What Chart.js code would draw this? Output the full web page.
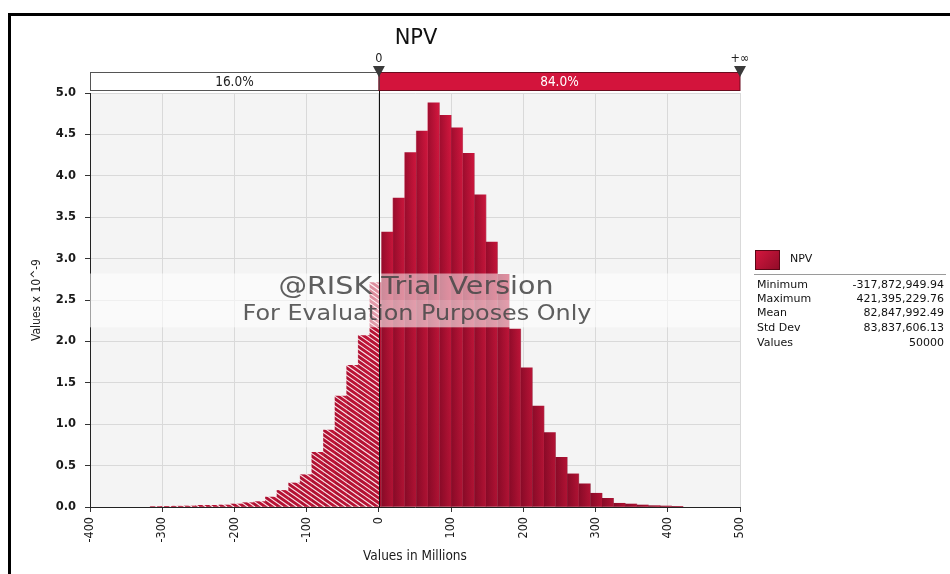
<!DOCTYPE html>
<html>
<head>
<meta charset="utf-8">
<script src="https://cdn.jsdelivr.net/npm/chart.js@4.4.1/dist/chart.umd.min.js"></script>
<style>
  html, body { margin: 0; padding: 0; background: #ffffff; }
  #wrap { width: 950px; height: 574px; position: relative; }
</style>
</head>
<body>
<div id="wrap"><canvas id="c" width="950" height="574"></canvas></div>
<script>
// ---------------- data ----------------
const chartTitle = 'NPV';
// histogram bin edges (values in millions)
const binEdges = [
  -317.87, -301.80, -285.73, -269.66, -253.59, -237.52, -221.45, -205.38, -189.30, -173.23,
  -157.16, -141.09, -125.02, -108.95, -92.88, -76.81, -60.74, -44.66, -28.59, -12.52,
  3.55, 19.62, 35.69, 51.76, 67.83, 83.90, 99.97, 116.05, 132.12, 148.19,
  164.26, 180.33, 196.40, 212.47, 228.54, 244.61, 260.69, 276.76, 292.83, 308.90,
  324.97, 341.04, 357.11, 373.18, 389.25, 405.32, 421.40
];
// probability density (x 10^-9) of each bin
const densities = [
  0.006, 0.008, 0.010, 0.012, 0.020, 0.020, 0.024, 0.036, 0.052, 0.065,
  0.12, 0.20, 0.29, 0.39, 0.66, 0.93, 1.34, 1.71, 2.07, 2.71,
  3.32, 3.73, 4.28, 4.54, 4.88, 4.73, 4.58, 4.27, 3.77, 3.20,
  2.81, 2.15, 1.68, 1.22, 0.90, 0.60, 0.40, 0.28, 0.166, 0.105,
  0.045, 0.036, 0.024, 0.016, 0.012, 0.008
];
const xTickValues = [-400, -300, -200, -100, 0, 100, 200, 300, 400, 500];
const yTickValues = [0, 0.5, 1, 1.5, 2, 2.5, 3, 3.5, 4, 4.5, 5];
const xTitle = 'Values in Millions';
const yTitle = 'Values x 10^-9';
const delimiterValue = 0;
const delimiterLabels = ['0', '+\u221E'];
const regionLabels = ['16.0%', '84.0%'];
const legendName = 'NPV';
const statLabels = ['Minimum', 'Maximum', 'Mean', 'Std Dev', 'Values'];
const statValues = ['-317,872,949.94', '421,395,229.76', '82,847,992.49', '83,837,606.13', '50000'];
const watermarkLines = ['@RISK Trial Version', 'For Evaluation Purposes Only'];

// ---------------- helpers ----------------
const points = densities.map((v, i) => ({ x: (binEdges[i] + binEdges[i + 1]) / 2, y: v }));
const FONT = '"DejaVu Sans Condensed", "DejaVu Sans", sans-serif';
const VFONT = '"DejaVu Sans", Verdana, sans-serif';
const CRIMSON = '#d3143c';

function buildTexture(chart) {
  const ca = chart.chartArea, xs = chart.scales.x;
  if (!ca || !xs) return;
  const c = document.createElement('canvas');
  c.width = chart.width; c.height = chart.height;
  const g = c.getContext('2d');
  const H = ca.bottom - ca.top;
  for (let k = 0; k < binEdges.length - 1; k++) {
    const L = xs.getPixelForValue(binEdges[k]);
    const R = xs.getPixelForValue(binEdges[k + 1]);
    const grad = g.createLinearGradient(L, 0, R, 0);
    grad.addColorStop(0, '#a20d2f');
    grad.addColorStop(1, '#d5173f');
    g.fillStyle = grad;
    g.fillRect(L, ca.top, R - L, H);
  }
  const vg = g.createLinearGradient(0, ca.top, 0, ca.bottom);
  vg.addColorStop(0, 'rgba(0,0,0,0)');
  vg.addColorStop(1, 'rgba(40,0,10,0.22)');
  g.fillStyle = vg;
  g.fillRect(ca.left, ca.top, ca.right - ca.left, H);
  // hatching for the part left of the delimiter
  const zero = xs.getPixelForValue(delimiterValue);
  g.save();
  g.beginPath();
  g.rect(ca.left, ca.top, zero - ca.left, H);
  g.clip();
  g.fillStyle = 'rgba(205,22,58,0.5)';
  g.fillRect(ca.left, ca.top, zero - ca.left, H);
  g.strokeStyle = 'rgba(255,240,243,0.95)';
  g.lineWidth = 1.1;
  const slope = 0.7;
  for (let x0 = ca.left - H / slope - 10; x0 < zero + 10; x0 += 7) {
    g.beginPath();
    g.moveTo(x0, ca.top);
    g.lineTo(x0 + H / slope, ca.bottom);
    g.stroke();
  }
  g.restore();
  chart.$tex = chart.ctx.createPattern(c, 'no-repeat');
}

const texturePlugin = {
  id: 'texture',
  afterLayout(chart) { buildTexture(chart); }
};

const backgroundPlugin = {
  id: 'plotBg',
  beforeDraw(chart) {
    const { ctx, chartArea: ca } = chart;
    ctx.save();
    ctx.fillStyle = '#ffffff';
    ctx.fillRect(0, 0, chart.width, chart.height);
    ctx.fillStyle = '#f4f4f4';
    ctx.fillRect(ca.left, ca.top, ca.right - ca.left, ca.bottom - ca.top);
    ctx.restore();
  }
};

function fitText(ctx, text, cx, cy, size, targetW) {
  ctx.font = size + 'px ' + VFONT;
  const w = ctx.measureText(text).width;
  const sx = targetW / w;
  ctx.save();
  ctx.translate(cx, cy);
  ctx.scale(sx, 1);
  ctx.fillText(text, 0, 0);
  ctx.restore();
}

const overlayPlugin = {
  id: 'overlay',
  afterDatasetsDraw(chart) {
    const { ctx, chartArea: ca } = chart;
    const xs = chart.scales.x, ys = chart.scales.y;
    const zero = xs.getPixelForValue(delimiterValue);
    // watermark band
    const bTop = ys.getPixelForValue(2.82), bMid = ys.getPixelForValue(2.5), bBot = ys.getPixelForValue(2.17);
    ctx.save();
    ctx.fillStyle = 'rgba(255,255,255,0.52)';
    ctx.fillRect(ca.left, bTop, ca.right - ca.left, bMid - bTop);
    ctx.fillStyle = 'rgba(255,255,255,0.58)';
    ctx.fillRect(ca.left, bMid, ca.right - ca.left, bBot - bMid);
    const cx = (ca.left + ca.right) / 2;
    ctx.fillStyle = 'rgba(72,72,72,0.88)';
    ctx.textAlign = 'center';
    ctx.textBaseline = 'middle';
    fitText(ctx, watermarkLines[0], cx + 1, (bTop + bMid) / 2 + 1, 24, 275);
    fitText(ctx, watermarkLines[1], cx + 2, (bMid + bBot) / 2 + 1, 21, 349);
    // delimiter line
    ctx.strokeStyle = '#111';
    ctx.lineWidth = 1;
    ctx.beginPath();
    ctx.moveTo(Math.round(zero) + 0.5, 76);
    ctx.lineTo(Math.round(zero) + 0.5, ca.bottom);
    ctx.stroke();
    ctx.restore();
  },
  afterDraw(chart) {
    const { ctx, chartArea: ca } = chart;
    const xs = chart.scales.x;
    const zero = xs.getPixelForValue(delimiterValue);
    ctx.save();
    // outer frame
    ctx.strokeStyle = '#000';
    ctx.lineWidth = 3;
    ctx.beginPath();
    ctx.moveTo(9.5, 580);
    ctx.lineTo(9.5, 14.5);
    ctx.lineTo(960, 14.5);
    ctx.stroke();
    // title
    ctx.fillStyle = '#111';
    ctx.textAlign = 'center';
    ctx.textBaseline = 'middle';
    ctx.font = '21px ' + VFONT;
    ctx.fillText(chartTitle, (ca.left + ca.right) / 2 + 1, 39);
    // header bar
    const hTop = 72.5, hBot = 90.5;
    ctx.fillStyle = '#ffffff';
    ctx.fillRect(ca.left, hTop, zero - ca.left, hBot - hTop);
    ctx.fillStyle = CRIMSON;
    ctx.fillRect(zero, hTop, ca.right - zero, hBot - hTop);
    ctx.strokeStyle = '#555';
    ctx.lineWidth = 1;
    ctx.strokeRect(ca.left + 0.5, hTop, zero - ca.left, hBot - hTop);
    ctx.strokeStyle = '#6a0b1e';
    ctx.strokeRect(zero, hTop, ca.right - zero, hBot - hTop);
    ctx.font = '13.5px ' + FONT;
    ctx.fillStyle = '#222';
    ctx.fillText(regionLabels[0], (ca.left + zero) / 2, (hTop + hBot) / 2 + 1);
    ctx.fillStyle = '#ffffff';
    ctx.fillText(regionLabels[1], (zero + ca.right) / 2, (hTop + hBot) / 2 + 1);
    // delimiter markers
    const markerXs = [zero, ca.right];
    markerXs.forEach((mx, i) => {
      ctx.fillStyle = '#222';
      ctx.font = '12.5px ' + FONT;
      ctx.fillText(delimiterLabels[i], mx, 59);
      ctx.fillStyle = '#3a3a3a';
      ctx.beginPath();
      ctx.moveTo(mx - 6, 66);
      ctx.lineTo(mx + 6, 66);
      ctx.lineTo(mx, 77);
      ctx.closePath();
      ctx.fill();
    });
    // legend
    const sw = ctx.createLinearGradient(755, 250, 780, 271);
    sw.addColorStop(0, '#d6173f');
    sw.addColorStop(1, '#8d0b27');
    ctx.fillStyle = sw;
    ctx.fillRect(755, 250, 25, 20);
    ctx.strokeStyle = '#5a0616';
    ctx.strokeRect(755.5, 250.5, 24, 19);
    ctx.textAlign = 'left';
    ctx.fillStyle = '#111';
    ctx.font = '11px ' + VFONT;
    ctx.fillText(legendName, 790, 259);
    ctx.strokeStyle = '#9a9a9a';
    ctx.beginPath();
    ctx.moveTo(754, 274.5);
    ctx.lineTo(946, 274.5);
    ctx.stroke();
    const rowY = [285, 299, 313.5, 328, 343];
    statLabels.forEach((lab, i) => {
      ctx.textAlign = 'left';
      ctx.fillText(lab, 757, rowY[i]);
      ctx.textAlign = 'right';
      ctx.fillText(statValues[i], 944, rowY[i]);
    });
    ctx.restore();
  }
};

const ctx = document.getElementById('c').getContext('2d');
new Chart(ctx, {
  type: 'bar',
  data: {
    datasets: [{
      label: legendName,
      data: points,
      backgroundColor: (c) => c.chart.$tex || CRIMSON,
      borderWidth: 0,
      barPercentage: 1.0,
      categoryPercentage: 1.0
    }]
  },
  options: {
    responsive: false,
    animation: false,
    events: [],
    layout: { padding: { top: 93, right: 210, left: 0, bottom: 0 } },
    plugins: {
      legend: { display: false },
      tooltip: { enabled: false },
      title: { display: false }
    },
    scales: {
      x: {
        type: 'linear',
        min: -400, max: 500,
        offset: false,
        afterBuildTicks: (s) => { s.ticks = xTickValues.map(v => ({ value: v })); },
        afterFit: (s) => { s.height = 67; },
        grid: { offset: false, color: '#d9d9d9', tickColor: '#333', tickLength: 5, drawTicks: true },
        border: { color: '#222', width: 1 },
        ticks: {
          autoSkip: false,
          minRotation: 90, maxRotation: 90,
          padding: 5,
          color: '#1a1a1a',
          font: { family: FONT, size: 12.5 },
          callback: (v) => String(v)
        },
        title: {
          display: true, text: xTitle, color: '#1a1a1a',
          font: { family: FONT, size: 13.5 },
          padding: { top: 0, bottom: 9 }
        }
      },
      y: {
        type: 'linear',
        min: 0, max: 5,
        afterBuildTicks: (s) => { s.ticks = yTickValues.map(v => ({ value: v })); },
        afterFit: (s) => { s.width = 90; },
        grid: { color: '#d9d9d9', tickColor: '#333', tickLength: 5 },
        border: { color: '#222', width: 1 },
        ticks: {
          padding: 9,
          color: '#1a1a1a',
          font: { family: VFONT, size: 11.5, weight: 'bold' },
          callback: (v) => Number(v).toFixed(1)
        },
        title: {
          display: true, text: yTitle, color: '#222',
          font: { family: FONT, size: 12 },
          padding: { top: 30, bottom: 0 }
        }
      }
    }
  },
  plugins: [texturePlugin, backgroundPlugin, overlayPlugin]
});
</script>
</body>
</html>
